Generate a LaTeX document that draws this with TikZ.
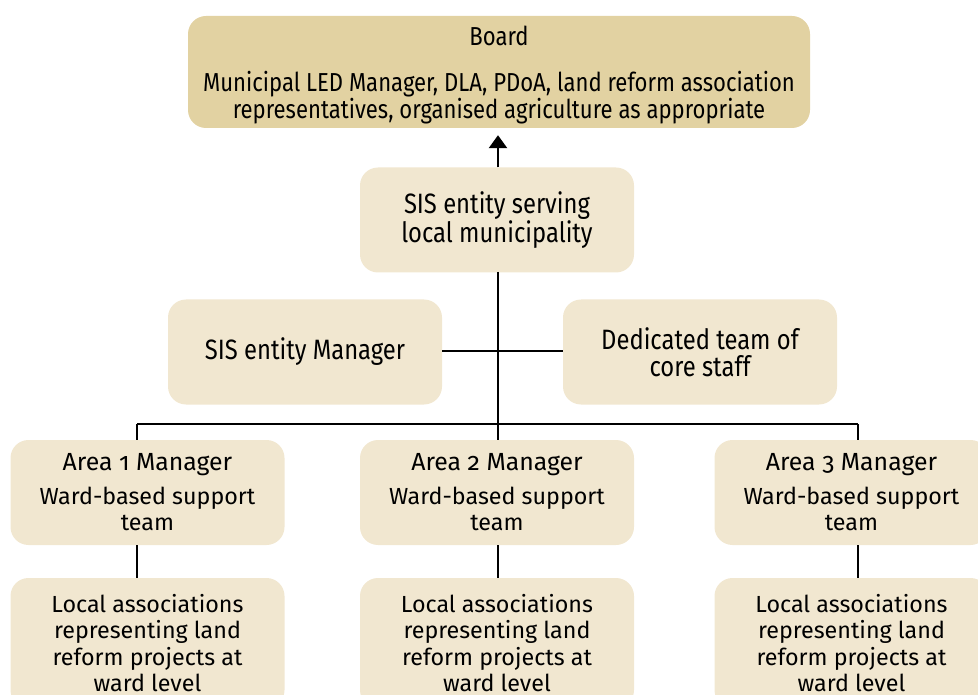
\documentclass[tikz,border=0pt]{standalone}
\usepackage{fontspec}
\setmainfont{Fira Sans}[Numbers=OldStyle]
\newfontfamily\condfont{Fira Sans}[FakeStretch=0.85]
\usetikzlibrary{arrows.meta}
\definecolor{boardfill}{HTML}{E2D2A2}
\definecolor{boxfill}{HTML}{F1E7D0}
\newcommand{\areahead}[1]{{\fontsize{24.8}{26.5}\selectfont #1}}
\tikzset{
  box/.style={rectangle, rounded corners=18pt, fill=boxfill, draw=none,
    minimum width=274pt, minimum height=105pt, align=center, inner sep=0pt,
    font=\fontsize{23.3}{26.5}\selectfont},
  condbox/.style={box, font=\condfont\fontsize{28}{26.5}\selectfont},
  link/.style={line width=2.6pt, draw=black}
}
\begin{document}
\begin{tikzpicture}[x=1pt,y=-1pt]
\useasboundingbox (0,0) rectangle (978,695);
\clip (0,0) rectangle (978,695);
\node[box, fill=boardfill, minimum width=622pt, minimum height=112pt,
  font=\condfont\fontsize{26}{24}\selectfont] (board) at (499,72)
  {};
\node[align=center, inner sep=0pt, font=\condfont\fontsize{26}{24}\selectfont] (boardtext) at (499,75)
  {Board\\[22pt]Municipal LED Manager, DLA, PDoA, land reform association\\representatives, organised agriculture as appropriate};
\node[condbox] (sis) at (497,220) {\raisebox{-2pt}{SIS entity serving}\\\raisebox{-2pt}{local municipality}};
\node[condbox] (mgr) at (305,352) {SIS entity Manager};
\node[condbox] (team) at (700,352) {Dedicated team of\\core staff};
\node[box] (a1) at (147.5,492.5) {\areahead{Area 1 Manager}\\[7pt]Ward-based support\\team};
\node[box] (a2) at (497,492.5) {\areahead{Area 2 Manager}\\[7pt]Ward-based support\\team};
\node[box] (a3) at (851.5,492.5) {\areahead{Area 3 Manager}\\[7pt]Ward-based support\\team};
\node[box, minimum height=130pt] (l1) at (147.5,643) {Local associations\\representing land\\reform projects at\\ward level};
\node[box, minimum height=130pt] (l2) at (497,643) {Local associations\\representing land\\reform projects at\\ward level};
\node[box, minimum height=130pt] (l3) at (851.5,643) {Local associations\\representing land\\reform projects at\\ward level};
\coordinate (s) at (498,272);
\coordinate (b1) at (137,424);
\coordinate (b2) at (498,424);
\coordinate (b3) at (858,424);
\coordinate (cross) at (498,351);
\draw[link, -{Triangle[width=18pt,length=13pt]}, shorten >=7pt] (sis.north -| s) -- (board.south -| s);
\draw[link] (s) -- (b2);
\draw[link] (b1) -- (b3);
\draw[link] (mgr.east |- cross) -- (team.west |- cross);
\draw[link] (b1) -- (b1 |- a1.north);
\draw[link] (b2) -- (b2 |- a2.north);
\draw[link] (b3) -- (b3 |- a3.north);
\draw[link] (b1 |- a1.south) -- (b1 |- 0,578);
\draw[link] (b2 |- a2.south) -- (b2 |- 0,578);
\draw[link] (b3 |- a3.south) -- (b3 |- 0,578);
\end{tikzpicture}
\end{document}
